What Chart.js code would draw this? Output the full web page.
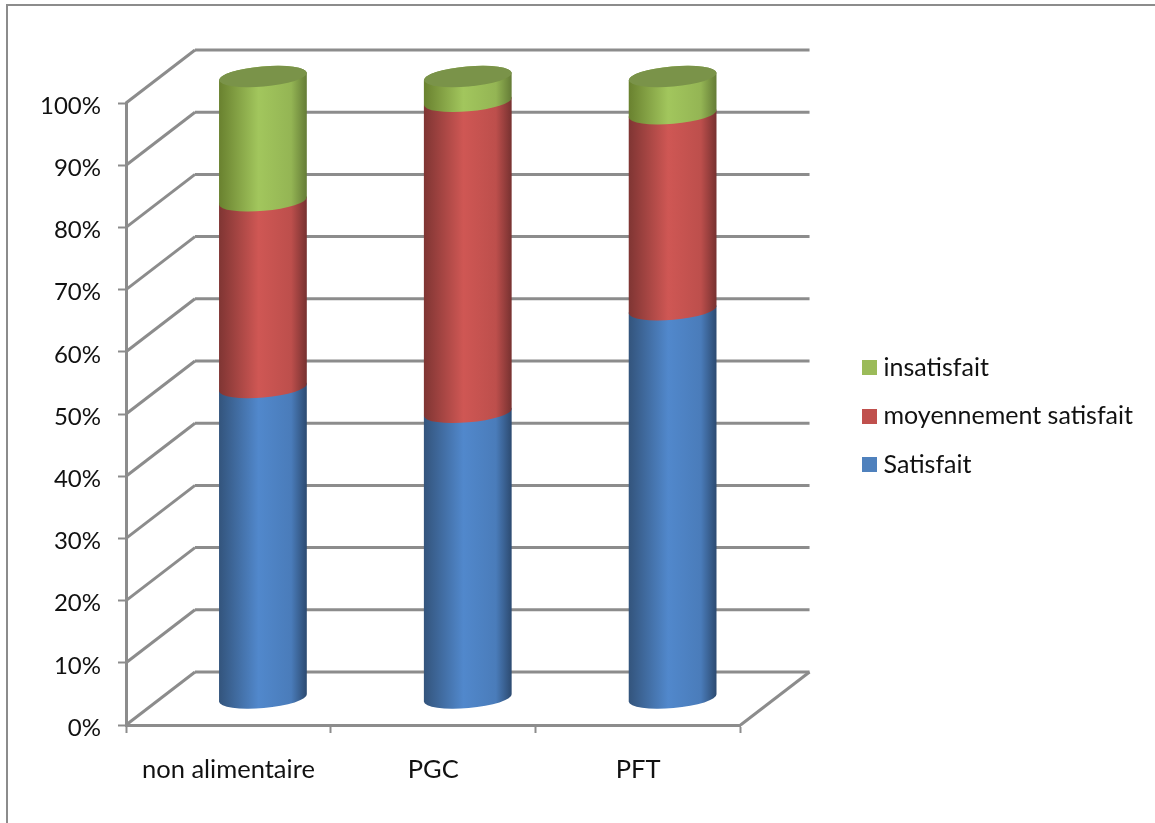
<!DOCTYPE html>
<html lang="fr">
<head>
<meta charset="utf-8">
<title>Satisfaction par rayon</title>
<script src="https://cdn.jsdelivr.net/npm/chart.js@4/dist/chart.umd.min.js"></script>
<style>
  html, body { margin: 0; padding: 0; background: #fff; overflow: hidden; }
  #wrap { position: relative; width: 1155px; height: 823px; }
</style>
</head>
<body>
<div id="wrap"><canvas id="chart" width="1155" height="823"></canvas></div>
<script>
const categories  = ['non alimentaire', 'PGC', 'PFT'];
const satisfait   = [50, 46, 62.5];
const moyennement = [30, 50, 31.5];
const insatisfait = [20, 4, 6];

const seriesNames = ['Satisfait', 'moyennement satisfait', 'insatisfait'];
const flatColors  = ['#4f81bd', '#c0504d', '#9bbb59'];
// left edge, brightest, shoulder, right edge of each cylinder
const shades = [
  ['#33547c', '#5188cc', '#4a7cba', '#2c4a70'],
  ['#7f3533', '#cf5754', '#bd4f4c', '#763130'],
  ['#69812f', '#a2c65d', '#94b554', '#647b36']
];
const capColor = '#7a9349';

const GRAY = '#8c8c8c';
const FONT = { family: 'Lato, "Open Sans", sans-serif', size: 25.5 };

// depth of the floor, in pixels
const DEPTH_X = 69;
const DEPTH_Y = 53;
const TILT = -0.085;

function line(ctx, x1, y1, x2, y2) {
  ctx.beginPath();
  ctx.moveTo(x1, y1);
  ctx.lineTo(x2, y2);
  ctx.stroke();
}

function drawWalls(chart) {
  const { ctx, chartArea: area, scales: { y } } = chart;
  ctx.save();
  ctx.strokeStyle = GRAY;
  ctx.lineWidth = 3;
  y.ticks.forEach(t => {
    const py = y.getPixelForValue(t.value);
    line(ctx, area.left, py, area.left + DEPTH_X, py - DEPTH_Y);
    line(ctx, area.left + DEPTH_X, py - DEPTH_Y, area.right + DEPTH_X, py - DEPTH_Y);
  });
  line(ctx, area.right, area.bottom, area.right + DEPTH_X, area.bottom - DEPTH_Y);
  ctx.restore();
}

function drawCylinders(chart) {
  const { ctx } = chart;
  const dx = DEPTH_X / 2, dy = DEPTH_Y / 2;
  chart.data.datasets.forEach((ds, i) => {
    const meta = chart.getDatasetMeta(i);
    meta.data.forEach(bar => {
      const cx = bar.x + dx, a = bar.width / 2, b = 10;
      const top = bar.y - dy, base = bar.base - dy;
      const g = ctx.createLinearGradient(cx - a, 0, cx + a, 0);
      g.addColorStop(0, shades[i][0]);
      g.addColorStop(0.45, shades[i][1]);
      g.addColorStop(0.82, shades[i][2]);
      g.addColorStop(1, shades[i][3]);
      ctx.beginPath();
      ctx.ellipse(cx, base, a, b, TILT, 0, Math.PI);
      ctx.ellipse(cx, top, a, b, TILT, Math.PI, 2 * Math.PI);
      ctx.closePath();
      ctx.fillStyle = g;
      ctx.fill();
      if (i === chart.data.datasets.length - 1) {
        ctx.beginPath();
        ctx.ellipse(cx, top, a, b, TILT, 0, 2 * Math.PI);
        ctx.fillStyle = capColor;
        ctx.fill();
      }
    });
  });
}

// square legend marker, the built-in rect gets squeezed by pointStyleWidth
function legendMarker(color) {
  const c = document.createElement('canvas');
  c.width = c.height = 15;
  const g = c.getContext('2d');
  g.fillStyle = color;
  g.fillRect(0, 0, 15, 15);
  return c;
}

const cylinderPlugin = {
  id: 'cylinders',
  afterLayout(chart) {
    chart.legend.top += 2;
    chart.legend.bottom += 2;
  },
  beforeDraw(chart) {
    // outer frame, only its top and left sides fall on the canvas
    const { ctx, width, height } = chart;
    ctx.save();
    ctx.strokeStyle = GRAY;
    ctx.lineWidth = 2;
    ctx.beginPath();
    ctx.moveTo(7, height);
    ctx.lineTo(7, 5);
    ctx.lineTo(width, 5);
    ctx.stroke();
    ctx.restore();
  },
  beforeDatasetsDraw(chart) {
    drawWalls(chart);
    drawCylinders(chart);
    return false;
  }
};

new Chart(document.getElementById('chart'), {
  type: 'bar',
  plugins: [cylinderPlugin],
  data: {
    labels: categories,
    datasets: [satisfait, moyennement, insatisfait].map((data, i) => ({
      label: seriesNames[i],
      data,
      backgroundColor: flatColors[i],
      borderWidth: 0
    }))
  },
  options: {
    responsive: false,
    animation: false,
    events: [],
    layout: { padding: { top: 103, right: 12, bottom: 0, left: 0 } },
    datasets: { bar: { categoryPercentage: 1, barPercentage: 0.43 } },
    plugins: {
      tooltip: { enabled: false },
      legend: {
        position: 'right',
        fullSize: false,
        reverse: true,
        maxWidth: 340,
        labels: {
          color: '#111',
          font: { family: FONT.family, size: 25 },
          usePointStyle: true,
          pointStyleWidth: 4,
          boxHeight: 15,
          padding: 23.5,
          generateLabels(chart) {
            return Chart.defaults.plugins.legend.labels.generateLabels(chart)
              .map(item => ({ ...item, pointStyle: legendMarker(item.fillStyle) }));
          }
        }
      }
    },
    scales: {
      x: {
        stacked: true,
        afterFit: s => { s.height = 98; },
        border: { color: GRAY, width: 3 },
        grid: { drawOnChartArea: false, tickLength: 8, tickColor: GRAY, tickWidth: 2 },
        ticks: { color: '#111', font: FONT, padding: 21, maxRotation: 0 }
      },
      y: {
        stacked: true,
        min: 0,
        max: 100,
        afterFit: s => { s.width = 126; },
        border: { color: GRAY, width: 3 },
        grid: { drawOnChartArea: false, tickLength: 8, tickColor: GRAY, tickWidth: 2 },
        ticks: { stepSize: 10, color: '#111', font: { family: FONT.family, size: 24 }, padding: 17, labelOffset: 3, callback: v => v + '%' }
      },
      // keeps the gap between the plot and the legend
      gap: {
        type: 'linear',
        position: 'right',
        afterFit: s => { s.width = 103; },
        border: { display: false },
        grid: { display: false },
        ticks: { display: false }
      }
    }
  }
});
</script>
</body>
</html>
